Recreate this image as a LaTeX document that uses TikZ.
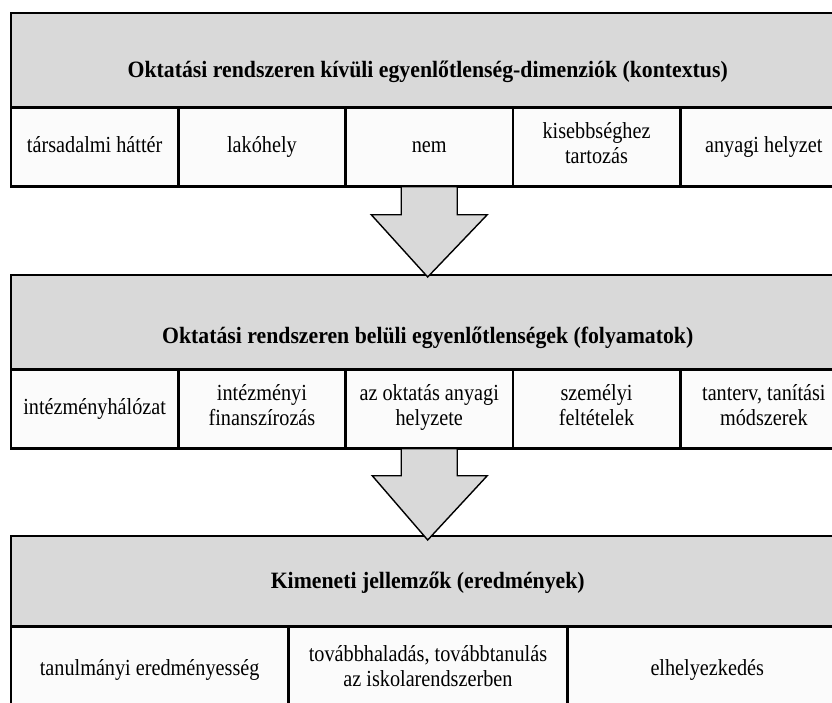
\documentclass[tikz,border=0pt]{standalone}
\usepackage{fontspec}
\setmainfont{Liberation Serif}
\newfontfamily\cellfont[FakeStretch=0.88]{Liberation Serif}
\newfontfamily\titlefont[FakeStretch=0.93]{Liberation Serif}
\usetikzlibrary{calc}
\definecolor{hdrgrey}{HTML}{D9D9D9}
\definecolor{cellfill}{HTML}{FBFBFB}
\begin{document}
\begin{tikzpicture}[x=1pt,y=-1pt,
  hdr/.style={draw=black, line width=1.4pt, fill=hdrgrey, minimum width=832pt,
    inner sep=0pt, anchor=north west},
  titletext/.style={font=\titlefont\fontsize{23.4}{27}\selectfont\bfseries, inner sep=0pt},
  cell/.style={draw=black, line width=1.3pt, fill=cellfill, inner sep=0pt,
    anchor=north west, align=center, font=\cellfont\fontsize{23}{25}\selectfont,
    execute at begin node=\strut, execute at end node=\strut},
  frame/.style={draw=black, line width=2.6pt},
  bigarrow/.style={draw=black, line width=1.4pt, fill=hdrgrey, line join=miter}]
\useasboundingbox (0,0) rectangle (832,702);
\clip (0,0) rectangle (832,702);

% --- block 1: context ---
\node[hdr, minimum height=93pt] (h1) at (11,13) {};
\node[titletext] (t1) at ($(h1.north)+(0,59)$) {Oktatási rendszeren kívüli egyenlőtlenség-dimenziók (kontextus)};
\begin{scope}[every node/.append style={cell, minimum width=166pt, minimum height=78pt}]
\node (c11) at (h1.south west) {társadalmi háttér};
\node (c12) at (c11.north east) {lakóhely};
\node (c13) at (c12.north east) {nem};
\node (c14) at (c13.north east) {kisebbséghez\\tartozás};
\node (c15) at (c14.north east) {anyagi helyzet};
\end{scope}
\draw[frame] (h1.north west) rectangle (c15.south east);

% --- block 2: processes ---
\node[hdr, minimum height=93pt] (h2) at (11,275) {};
\node[titletext] (t2) at ($(h2.north)+(0,63)$) {Oktatási rendszeren belüli egyenlőtlenségek (folyamatok)};
\begin{scope}[every node/.append style={cell, minimum width=166pt, minimum height=78pt}]
\node (c21) at (h2.south west) {intézményhálózat};
\node (c22) at (c21.north east) {intézményi\\finanszírozás};
\node (c23) at (c22.north east) {az oktatás anyagi\\helyzete};
\node (c24) at (c23.north east) {személyi\\feltételek};
\node (c25) at (c24.north east) {tanterv, tanítási\\módszerek};
\end{scope}
\draw[frame] (h2.north west) rectangle (c25.south east);

% --- block 3: outcomes ---
\node[hdr, minimum height=89pt] (h3) at (11,536) {};
\node[titletext] (t3) at ($(h3.north)+(0,47)$) {Kimeneti jellemzők (eredmények)};
\begin{scope}[every node/.append style={cell, minimum height=86pt}]
\node[minimum width=276pt] (c31) at (h3.south west) {tanulmányi eredményesség};
\node[minimum width=278pt] (c32) at (c31.north east) {továbbhaladás, továbbtanulás\\az iskolarendszerben};
\node[minimum width=278pt] (c33) at (c32.north east) {elhelyezkedés};
\end{scope}
\draw[frame] (h3.north west) rectangle (c33.south east);

% --- block arrows between the levels ---
\draw[bigarrow]
  ($(c13.south)+(-28,0)$) -- ($(c13.south)+(28,0)$) -- ($(c13.south)+(28,28)$)
  -- ($(c13.south)+(58,28)$) -- ($(h2.north)+(0,2)$)
  -- ($(c13.south)+(-58,28)$) -- ($(c13.south)+(-28,28)$) -- cycle;
\draw[bigarrow]
  ($(c23.south)+(-28,0)$) -- ($(c23.south)+(28,0)$) -- ($(c23.south)+(28,27)$)
  -- ($(c23.south)+(58,27)$) -- ($(h3.north)+(0,4)$)
  -- ($(c23.south)+(-57,27)$) -- ($(c23.south)+(-28,27)$) -- cycle;
\end{tikzpicture}
\end{document}
